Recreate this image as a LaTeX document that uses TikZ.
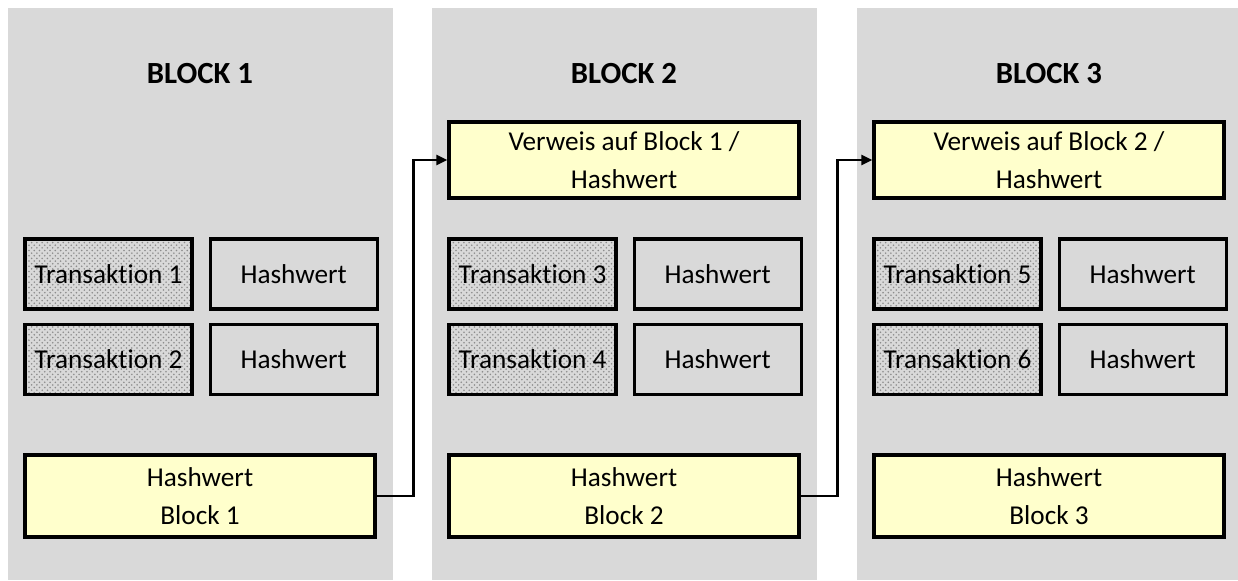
\documentclass[tikz,border=0pt]{standalone}
\usepackage{fontspec}
\setmainfont{Carlito}[Ligatures=NoCommon]
\usetikzlibrary{patterns,positioning,arrows.meta}

\definecolor{panelgray}{HTML}{D9D9D9}
\definecolor{hashyellow}{HTML}{FFFFCC}

\tikzset{
  panel/.style={fill=panelgray, draw=none},
  blocktitle/.style={font=\bfseries\fontsize{17.5}{21}\selectfont},
  box/.style={draw=black, line width=1.8pt, inner sep=0pt, align=center,
    font=\fontsize{15.5}{21.5}\selectfont},
  txbox/.style={box, minimum width=3.34cm, minimum height=1.4cm,
    preaction={fill=panelgray}, pattern=crosshatch dots, pattern color=black!45},
  hwbox/.style={box, minimum width=3.34cm, minimum height=1.4cm},
  widebox/.style={box, fill=hashyellow, minimum width=7cm},
  link/.style={-{Triangle[length=0.22cm,width=0.2cm]}, line width=1.3pt}
}

\begin{document}
\begin{tikzpicture}
\useasboundingbox (0,0) rectangle (24.76,11.6);

% one grey column per block
\foreach \i/\xs in {1/0,2/8.48,3/16.98}{
  \pgfmathtruncatemacro{\ta}{2*\i-1}
  \pgfmathtruncatemacro{\tb}{2*\i}
  \begin{scope}[xshift=\xs cm]
    \fill[panel] (0.16,0) rectangle (7.86,11.44);
    \node[blocktitle] (title\i) at (4.0,10.12) {BLOCK \i};
    \node[txbox] (txa\i) at (2.17,6.12) {Transaktion \ta};
    \node[hwbox, right=0.3cm of txa\i] (hwa\i) {Hashwert};
    \node[txbox, below=0.24cm of txa\i] (txb\i) {Transaktion \tb};
    \node[hwbox, right=0.3cm of txb\i] (hwb\i) {Hashwert};
    \node[widebox, minimum height=1.64cm] (hash\i) at (4.0,1.68) {Hashwert\\Block \i};
  \end{scope}
}

% references to the previous block
\node[widebox, minimum height=1.52cm] (ref2) at (12.48,8.4) {Verweis auf Block 1 /\\Hashwert};
\node[widebox, minimum height=1.52cm] (ref3) at (20.98,8.4) {Verweis auf Block 2 /\\Hashwert};

\draw[link] (hash1.east) -- ++(0.74,0) |- (ref2.west);
\draw[link] (hash2.east) -- ++(0.74,0) |- (ref3.west);
\end{tikzpicture}
\end{document}
